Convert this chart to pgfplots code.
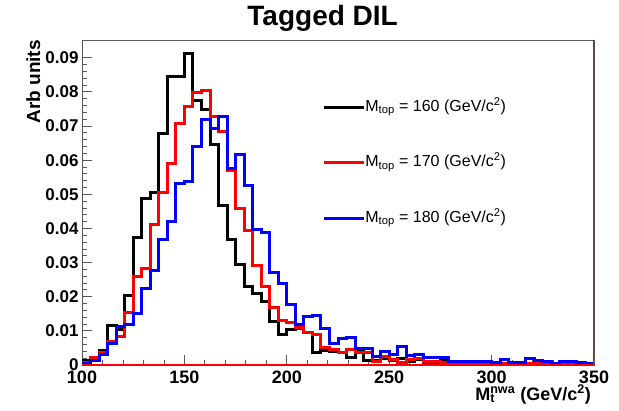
\documentclass[border=0pt]{standalone}
\usepackage{fontspec}
\setmainfont{Liberation Sans}
\usepackage{pgfplots}
\usepackage{pgfplotstable}
\pgfplotsset{compat=1.18}

% left bin edges (60 bins, 100-350), last row closes the step
\pgfplotstableread{
x k r b
100    0.0013 0.0006 0.0004
104.17 0.0018 0.0021 0.0013
108.33 0.0043 0.0037 0.0030
112.5  0.0115 0.0069 0.0063
116.67 0.0104 0.0084 0.0113
120.83 0.0204 0.0155 0.0118
125    0.0374 0.0258 0.0150
129.17 0.0489 0.0282 0.0223
133.33 0.0506 0.0411 0.0276
137.5  0.0678 0.0506 0.0369
141.67 0.0844 0.0589 0.0421
145.83 0.0844 0.0706 0.0531
150    0.0912 0.0756 0.0538
154.17 0.0774 0.0799 0.0639
158.33 0.0749 0.0803 0.0718
162.5  0.0646 0.0727 0.0692
166.67 0.0466 0.0685 0.0729
170.83 0.0368 0.0570 0.0577
175    0.0295 0.0457 0.0617
179.17 0.0231 0.0395 0.0527
183.33 0.0210 0.0292 0.0397
187.5  0.0185 0.0231 0.0388
191.67 0.0127 0.0167 0.0271
195.83 0.0090 0.0130 0.0239
200    0.0105 0.0125 0.0176
204.17 0.0107 0.0109 0.0120
208.33 0.0096 0.0096 0.0142
212.5  0.0038 0.0090 0.0146
216.67 0.0043 0.0050 0.0106
220.83 0.0040 0.0045 0.0062
225    0.0036 0.0036 0.0077
229.17 0.0021 0.0044 0.0080
233.33 0.0040 0.0036 0.0047
237.5  0.0013 0.0037 0.0047
241.67 0.0013 0.0011 0.0026
245.83 0.0019 0.0026 0.0039
250    0.0013 0.0016 0.0031
254.17 0.0019 0.0008 0.0053
258.33 0.0011 0.0016 0.0028
262.5  0.0016 0.0018 0.0031
266.67 0.0002 0.0011 0.0023
270.83 0.0002 0.0011 0.0021
275    0.0016 0.0006 0.0021
279.17 0.0011 0.0003 0.0011
283.33 0.0005 0.0003 0.0011
287.5  0.0004 0.0008 0.0011
291.67 0.0004 0.0006 0.0011
295.83 0.0008 0.0004 0.0011
300    0.0003 0.0008 0.0006
304.17 0.0003 0.0004 0.0016
308.33 0.0001 0.0003 0.0008
312.5  0.0001 0.0003 0.0008
316.67 0.0001 0.0003 0.0018
320.83 0.0003 0.0004 0.0013
325    0.0003 0.0003 0.0009
329.17 0.0003 0.0002 0.0003
333.33 0.0008 0.0006 0.0009
337.5  0.0006 0.0003 0.0009
341.67 0.0003 0.0002 0.0006
345.83 0.0002 0.0002 0.0003
350    0.0002 0.0002 0.0003
}\histdata

\begin{document}
\begin{tikzpicture}
\begin{axis}[
  scale only axis,
  width=512pt, height=325pt,
  xmin=100, xmax=350,
  ymin=0, ymax=0.0952,
  xtick={100,150,200,250,300,350},
  ytick={0,0.01,0.02,0.03,0.04,0.05,0.06,0.07,0.08,0.09},
  yticklabels={0,0.01,0.02,0.03,0.04,0.05,0.06,0.07,0.08,0.09},
  minor x tick num=4, minor y tick num=4,
  scaled y ticks=false,
  tick align=inside, tick pos=left,
  major tick length=10pt, minor tick length=5pt,
  tick style={line width=0.8pt, gray!70!black},
  axis line style={line width=0.8pt, gray!70!black},
  /pgf/number format/assume math mode=true,
  xticklabel style={font=\fontsize{18}{18}\selectfont\bfseries, yshift=-2pt},
  yticklabel style={font=\fontsize{17}{17}\selectfont\bfseries},
  title={Tagged DIL},
  title style={font=\fontsize{28}{30}\selectfont\bfseries,
    at={(rel axis cs:0.47,1)}, anchor=south, inner sep=0pt, yshift=2pt},
  xlabel={M\rlap{\textsubscript{t}}\textsuperscript{nwa} (GeV/c\textsuperscript{2})},
  xlabel style={font=\fontsize{18}{18}\selectfont\bfseries,
    at={(rel axis cs:1,0)}, anchor=base east, inner sep=0pt, yshift=-35pt, xshift=-3pt},
  ylabel={Arb units},
  ylabel style={font=\fontsize{19}{19}\selectfont\bfseries,
    at={(rel axis cs:-0.082,1)}, anchor=base east, rotate=0, inner sep=0pt},
  legend style={draw=none, fill=none, at={(rel axis cs:0.469,0.818)}, anchor=north west,
    inner sep=0pt, row sep=39.5pt,
    font=\fontsize{16}{16}\selectfont,
    nodes={inner sep=0pt, text height=12pt, text depth=4pt}},
  legend cell align=left,
  legend image code/.code={\draw[#1, line width=3pt] (0pt,0pt) -- (31pt,0pt);\path (0pt,0pt) -- (40pt,0pt);},
]
\addplot[const plot, black, line width=3pt] table[x=x, y=k] {\histdata};
\addlegendentry{M\textsubscript{top} = 160 (GeV/c\textsuperscript{2})}
\addplot[const plot, red, line width=3pt] table[x=x, y=r] {\histdata};
\addlegendentry{M\textsubscript{top} = 170 (GeV/c\textsuperscript{2})}
\addplot[const plot, blue, line width=3pt] table[x=x, y=b] {\histdata};
\addlegendentry{M\textsubscript{top} = 180 (GeV/c\textsuperscript{2})}
\draw[red, line width=1.5pt] (rel axis cs:0,0) -- (rel axis cs:1,0) -- (rel axis cs:1,1);
\end{axis}
\path ([shift={(-82pt,-45pt)}]current axis.south west) rectangle ([shift={(25pt,40pt)}]current axis.north east);
\end{tikzpicture}
\end{document}
